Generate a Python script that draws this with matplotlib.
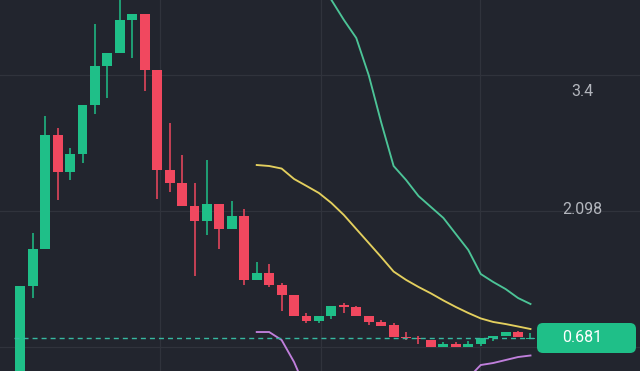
import matplotlib
matplotlib.use("Agg")
import matplotlib.pyplot as plt
import numpy as np
from matplotlib.patches import FancyBboxPatch
from matplotlib.transforms import IdentityTransform, blended_transform_factory

# ---- data ----
opens  = [0.25, 1.255, 1.663, 2.920, 2.512, 2.711, 3.251, 3.681, 3.825, 4.189,
          4.255, 3.637, 2.534, 2.391, 2.137, 1.972, 2.159, 1.883, 2.027, 1.321,
          1.398, 1.266, 1.155, 0.924, 0.869, 0.924, 1.045, 1.023, 0.924, 0.857,
          0.824, 0.686, 0.676, 0.659, 0.582, 0.615, 0.582, 0.615, 0.681, 0.703,
          0.747, 0.670]
closes = [1.255, 1.663, 2.920, 2.512, 2.711, 3.251, 3.681, 3.825, 4.189, 4.255,
          3.637, 2.534, 2.391, 2.137, 1.972, 2.159, 1.883, 2.027, 1.321, 1.398,
          1.266, 1.155, 0.924, 0.869, 0.924, 1.034, 1.023, 0.924, 0.857, 0.813,
          0.692, 0.676, 0.665, 0.582, 0.615, 0.582, 0.615, 0.681, 0.703, 0.747,
          0.692, 0.681]
highs  = [1.255, 1.839, 3.130, 2.997, 2.777, 3.251, 4.144, 3.825, 4.500, 4.255,
          4.255, 3.637, 3.052, 2.699, 2.391, 2.644, 2.159, 2.192, 2.104, 1.519,
          1.497, 1.288, 1.155, 0.957, 0.924, 1.034, 1.067, 1.034, 0.924, 0.880,
          0.846, 0.747, 0.703, 0.659, 0.637, 0.637, 0.648, 0.681, 0.703, 0.747,
          0.758, 0.740]
lows   = [0.25, 1.122, 1.663, 2.203, 2.424, 2.611, 3.152, 3.328, 3.825, 3.769,
          3.405, 2.214, 2.291, 2.137, 1.365, 1.817, 1.663, 1.883, 1.266, 1.321,
          1.244, 0.979, 0.924, 0.846, 0.846, 0.891, 0.957, 0.924, 0.824, 0.813,
          0.692, 0.659, 0.615, 0.582, 0.582, 0.582, 0.582, 0.593, 0.648, 0.703,
          0.692, 0.670]

# Bollinger-style bands, starting at candle 20 (index 19)
band_start = 19
upper_band = [6.60, 6.50, 6.30, 6.00, 5.40, 4.70, 4.41, 4.19, 3.99, 3.58,
              3.06, 2.578, 2.424, 2.247, 2.126, 2.005, 1.828, 1.652, 1.387, 1.299,
              1.221, 1.122, 1.056]
middle_band = [2.589, 2.578, 2.550, 2.435, 2.358, 2.280, 2.170, 2.038, 1.883, 1.729,
               1.574, 1.414, 1.322, 1.244, 1.173, 1.095, 1.023, 0.957, 0.897, 0.858,
               0.835, 0.808, 0.780]
lower_band = [0.747, 0.747, 0.659, 0.416, 0.100, -0.15, -0.35, -0.45, -0.40, -0.35,
              -0.25, -0.10, 0.00, 0.05, 0.10, 0.12, 0.15, 0.24, 0.383, 0.405,
              0.438, 0.471, 0.488]

last_price = 0.681
axis_labels = [3.4, 2.098]
grid_prices = [0.582, 2.082, 3.582]
grid_x = [11.23, 24.17, 36.95]

# ---- style ----
BG = "#22252e"
GRID = "#30333c"
UP = "#1fbf88"
DOWN = "#f1485f"
TXT = "#b3b6bd"
FONT = ["Roboto", "DejaVu Sans"]

fig = plt.figure(figsize=(6.4, 3.71), dpi=100, facecolor=BG)
ax = fig.add_axes([0, 0, 1, 1])
ax.set_facecolor(BG)
ax.set_xlim(-1.63, 49.8)
ax.set_ylim(0.317, 4.409)
ax.axis("off")

for g in grid_prices:
    ax.axhline(g, color=GRID, lw=0.9, zorder=0)
for gx in grid_x:
    ax.axvline(gx, color=GRID, lw=0.9, zorder=0)

o = np.array(opens); c = np.array(closes); h = np.array(highs); l = np.array(lows)
x = np.arange(len(o))
cols = [UP if cc >= oo else DOWN for oo, cc in zip(o, c)]
bottom = np.minimum(o, c)
height = np.maximum(np.abs(c - o), 0.012)
ax.vlines(x, l, h, colors=cols, lw=1.1, zorder=2)
ax.bar(x, height, bottom=bottom, width=0.8, color=cols, zorder=3, linewidth=0)

bx = np.arange(band_start, band_start + len(middle_band))
ax.plot(bx, upper_band, color="#4cc497", lw=1.35, zorder=4, solid_joinstyle="round")
ax.plot(bx, middle_band, color="#e3cf5e", lw=1.35, zorder=4, solid_joinstyle="round")
ax.plot(bx, lower_band, color="#c07fdc", lw=1.35, zorder=4, solid_joinstyle="round")

# last price dashed line
ax.hlines(last_price, -0.5, 44, colors="#36b8a0", lw=1.0,
          linestyles=(0, (3.6, 2.9)), zorder=5)

# right side labels
trans = blended_transform_factory(ax.transAxes, ax.transData)
for v in axis_labels:
    ax.text(0.91, v, f"{v:g}", transform=trans, ha="center", va="center",
            color=TXT, fontsize=11.5, family=FONT)

# last price box
fig.canvas.draw()
ypix = ax.transData.transform((0, last_price))[1]
box = FancyBboxPatch((537, ypix - 15), 99, 30,
                     boxstyle="round,pad=0,rounding_size=6",
                     transform=IdentityTransform(), facecolor=UP,
                     edgecolor="none", zorder=10, clip_on=False)
ax.add_patch(box)
ax.text(0.91, last_price, f"{last_price:.3f}", transform=trans, ha="center",
        va="center", color="white", fontsize=11.5, zorder=11, family=FONT)

fig.savefig("out.png", dpi=100, facecolor=BG)
